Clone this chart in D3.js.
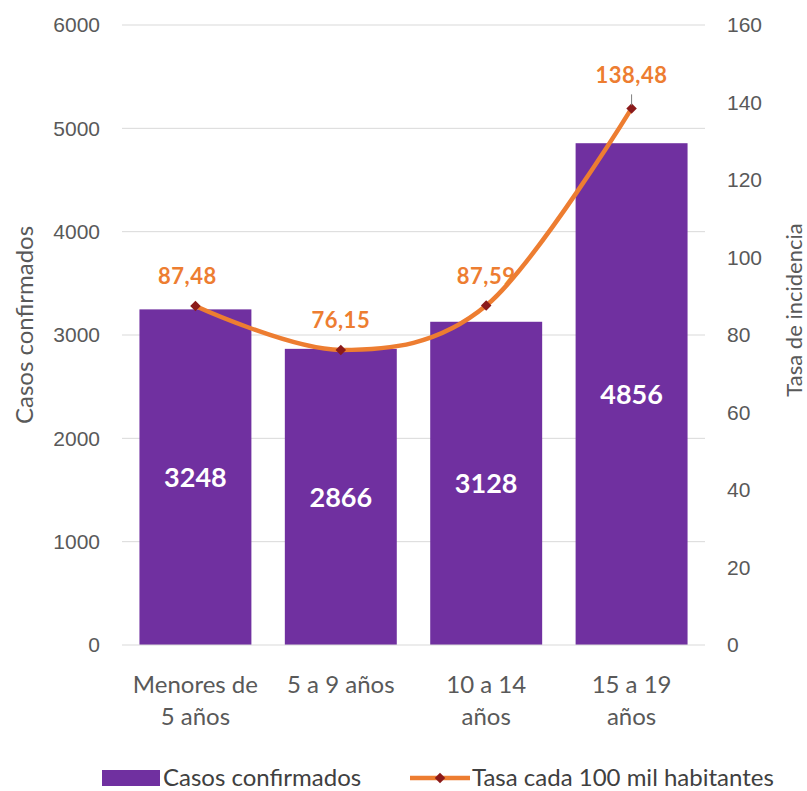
<!DOCTYPE html>
<html>
<head>
<meta charset="utf-8">
<script src="https://cdn.jsdelivr.net/npm/d3@7"></script>
<style>
  body { margin: 0; background: #fff; }
  svg { display: block; font-family: Lato, "Open Sans", sans-serif; }
</style>
</head>
<body>
<div id="chart"></div>
<script>
// data
const categories = [['Menores de', '5 años'], ['5 a 9 años'], ['10 a 14', 'años'], ['15 a 19', 'años']];
const casos = [3248, 2866, 3128, 4856];
const tasa = [87.48, 76.15, 87.59, 138.48];
const tasaLabels = ['87,48', '76,15', '87,59', '138,48'];
const leftTicks = [0, 1000, 2000, 3000, 4000, 5000, 6000];
const rightTicks = [0, 20, 40, 60, 80, 100, 120, 140, 160];

const width = 807, height = 791;
const margin = { top: 25, right: 102, bottom: 146, left: 122 };
const innerW = width - margin.left - margin.right;
const innerH = height - margin.top - margin.bottom;

const barColor = '#7030A0';
const lineColor = '#ED7D31';
const markerColor = '#8B1A1A';
const textColor = '#595959';

const svg = d3.select('#chart').append('svg')
  .attr('width', width).attr('height', height);

const g = svg.append('g').attr('transform', `translate(${margin.left},${margin.top})`);

const x = d3.scaleBand().domain(d3.range(categories.length)).range([0, innerW])
  .paddingInner(0.23).paddingOuter(0.12);
const yL = d3.scaleLinear().domain([0, 6000]).range([innerH, 0]);
const yR = d3.scaleLinear().domain([0, 160]).range([innerH, 0]);
const cx = i => x(i) + x.bandwidth() / 2;

// gridlines
g.append('g').selectAll('line').data(leftTicks.slice(1)).join('line')
  .attr('x1', 0).attr('x2', innerW)
  .attr('y1', d => yL(d)).attr('y2', d => yL(d))
  .attr('stroke', '#d9d9d9').attr('stroke-width', 1);

// left axis
const leftAxis = g.append('g')
  .call(d3.axisLeft(yL).tickValues(leftTicks).tickFormat(d3.format('d')).tickSize(0).tickPadding(22));
leftAxis.select('.domain').remove();
leftAxis.selectAll('text').attr('fill', textColor).attr('font-size', 21);

// right axis
const rightAxis = g.append('g').attr('transform', `translate(${innerW},0)`)
  .call(d3.axisRight(yR).tickValues(rightTicks).tickSize(0).tickPadding(22));
rightAxis.select('.domain').remove();
rightAxis.selectAll('text').attr('fill', textColor).attr('font-size', 21);

// bars
g.append('g').selectAll('rect').data(casos).join('rect')
  .attr('x', (d, i) => x(i)).attr('width', x.bandwidth())
  .attr('y', d => yL(d)).attr('height', d => innerH - yL(d))
  .attr('fill', barColor);

// bar value labels
g.append('g').selectAll('text').data(casos).join('text')
  .attr('x', (d, i) => cx(i))
  .attr('y', d => (yL(d) + innerH) / 2)
  .attr('dy', '0.36em')
  .attr('text-anchor', 'middle')
  .attr('fill', '#fff').attr('font-weight', 'bold').attr('font-size', 27)
  .text(d => d);

// x baseline
g.append('line').attr('x1', 0).attr('x2', innerW)
  .attr('y1', innerH).attr('y2', innerH)
  .attr('stroke', '#d9d9d9').attr('stroke-width', 1);

// category labels
const xLab = g.append('g').selectAll('text').data(categories).join('text')
  .attr('x', (d, i) => cx(i))
  .attr('y', innerH + 48)
  .attr('text-anchor', 'middle')
  .attr('fill', textColor).attr('font-size', 24);
xLab.selectAll('tspan').data(d => d).join('tspan')
  .attr('x', function () { return this.parentNode.getAttribute('x'); })
  .attr('dy', (d, i) => i === 0 ? 0 : 32)
  .text(d => d);

// line (smoothed like the spreadsheet)
const line = d3.line()
  .x((d, i) => cx(i))
  .y(d => yR(d))
  .curve(d3.curveCatmullRom.alpha(0));

g.append('path').datum(tasa)
  .attr('fill', 'none').attr('stroke', lineColor)
  .attr('stroke-width', 4.5).attr('stroke-linecap', 'round')
  .attr('d', line);

// diamond markers
g.append('g').selectAll('path').data(tasa).join('path')
  .attr('transform', (d, i) => `translate(${cx(i)},${yR(d)})`)
  .attr('d', d3.symbol(d3.symbolDiamond2, 70))
  .attr('fill', markerColor);

// leader line on the last label
const last = tasa.length - 1;
g.append('line')
  .attr('x1', cx(last)).attr('x2', cx(last))
  .attr('y1', yR(tasa[last]) - 14).attr('y2', yR(tasa[last]) - 3)
  .attr('stroke', '#7f7f7f').attr('stroke-width', 1);

// line value labels
g.append('g').selectAll('text').data(tasa).join('text')
  .attr('x', (d, i) => cx(i) + (i === 0 ? -8 : 0))
  .attr('y', (d, i) => yR(d) - (i === last ? 25 : 22))
  .attr('text-anchor', 'middle')
  .attr('fill', lineColor).attr('font-weight', 'bold').attr('font-size', 22)
  .attr('letter-spacing', 0.5)
  .text((d, i) => tasaLabels[i]);

// axis titles
svg.append('text')
  .attr('transform', `translate(25,325) rotate(-90)`)
  .attr('dy', '0.35em')
  .attr('text-anchor', 'middle')
  .attr('fill', textColor).attr('font-size', 24)
  .text('Casos confirmados');

svg.append('text')
  .attr('transform', `translate(794,310) rotate(-90)`)
  .attr('dy', '0.35em')
  .attr('text-anchor', 'middle')
  .attr('fill', textColor).attr('font-size', 22)
  .text('Tasa de incidencia');

// legend
const legend = svg.append('g').attr('transform', 'translate(0,778)');
legend.append('rect').attr('x', 102).attr('y', -8).attr('width', 58).attr('height', 16)
  .attr('fill', barColor);
legend.append('text').attr('x', 163).attr('y', 0).attr('dy', '0.35em')
  .attr('fill', '#404040').attr('font-size', 24)
  .text('Casos confirmados');
legend.append('line').attr('x1', 410).attr('x2', 470).attr('y1', 0).attr('y2', 0)
  .attr('stroke', lineColor).attr('stroke-width', 4.5);
legend.append('path').attr('transform', 'translate(440,0)')
  .attr('d', d3.symbol(d3.symbolDiamond2, 70)).attr('fill', markerColor);
legend.append('text').attr('x', 472).attr('y', 0).attr('dy', '0.35em')
  .attr('fill', '#404040').attr('font-size', 24)
  .text('Tasa cada 100 mil habitantes');
</script>
</body>
</html>
